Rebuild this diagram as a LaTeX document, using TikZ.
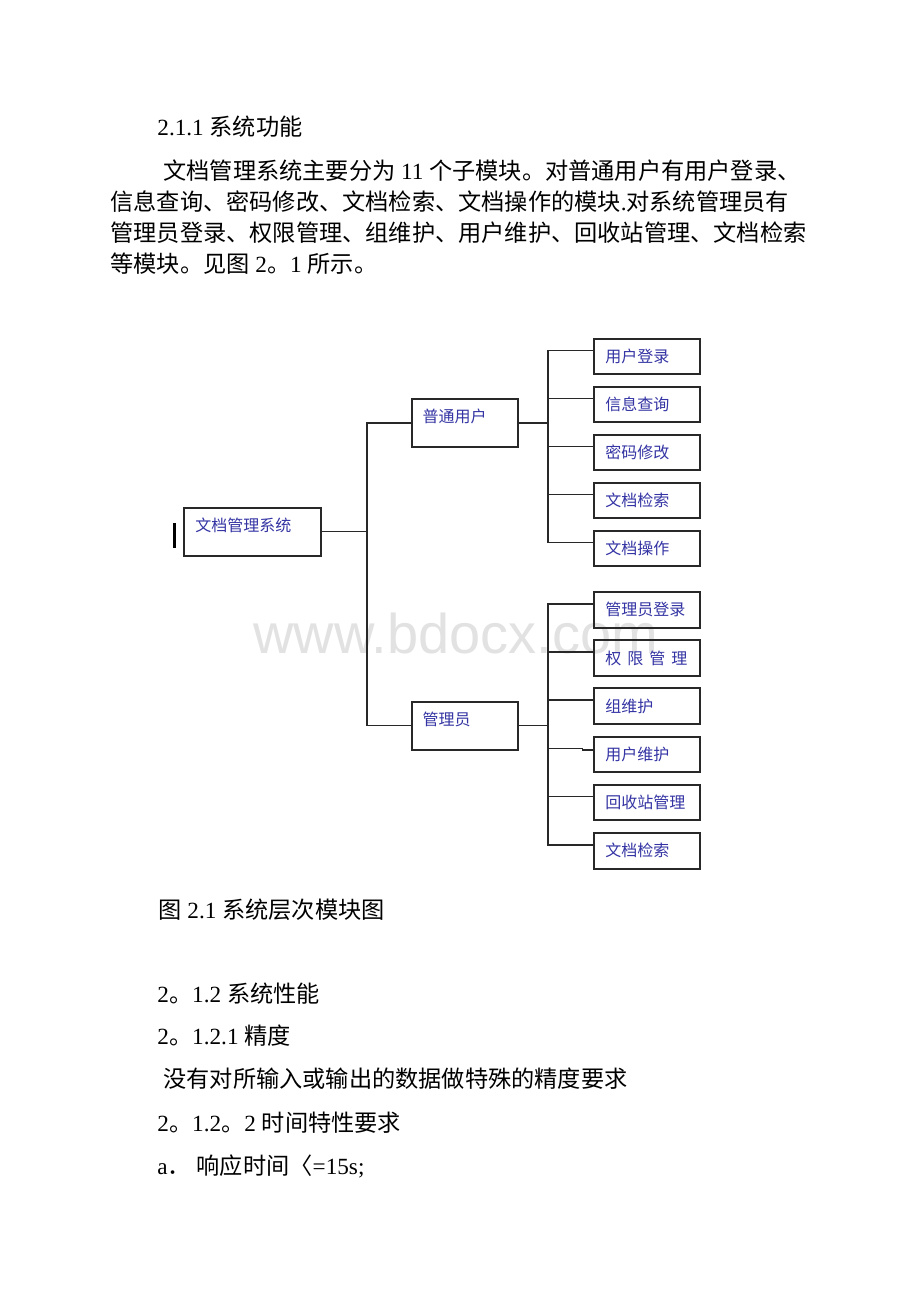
\documentclass[tikz,border=0pt]{standalone}
\usepackage{fontspec}
\setmainfont{Liberation Serif}
\newfontfamily\cjk{Noto Sans CJK SC}
\newfontfamily\wmfont{Liberation Sans}
\usepackage{tikz}
\usetikzlibrary{positioning}
\definecolor{boxblue}{RGB}{52,52,164}
\definecolor{wmgray}{RGB}{226,226,226}
\definecolor{linegray}{RGB}{40,40,40}
\newcommand{\zh}[1]{{\cjk #1}}
\tikzset{
	font={\upshape\selectfont}}
\tikzstyle{bodytext} = [anchor=base west, inner sep=0, font=\fontsize{11.6pt}{14pt}\selectfont]
\tikzstyle{rect_root} = [rectangle, draw=linegray, line width=1pt, inner xsep=5.5pt, inner ysep=0, text width=57.2pt, align=left, text height=12pt, text depth=12pt, text=boxblue, font={\cjk\fontsize{8pt}{10pt}\selectfont}]
\tikzstyle{rect_mid} = [rect_root, text width=42pt]
\tikzstyle{rect_leaf} = [rectangle, draw=linegray, line width=1pt, inner xsep=5.5pt, inner ysep=0, text width=41.85pt, align=left, minimum height=17.75pt, text height=6.6pt, text depth=0.5pt, text=boxblue, font={\cjk\fontsize{8pt}{10pt}\selectfont}]
\tikzstyle{line} = [draw=linegray, line width=0.75pt]
\begin{document}
\begin{tikzpicture}[x=0.5pt, y=-0.5pt, node distance=24pt]
\fill[white] (0,0) rectangle (920,1302);
\useasboundingbox (0,0) rectangle (920,1302);

% Wasserzeichen
\node[anchor=base west, inner sep=0, text=wmgray, font={\wmfont\fontsize{28pt}{30pt}\selectfont}](watermark) at (253,653){www.bdocx.com};

% Text oben
\node[bodytext](title) at (157,135){2.1.1 \zh{系统功能}};
\node[bodytext](intro1) at (163,179){\zh{文档管理系统主要分为} 11 \zh{个子模块。对普通用户有用户登录、}};
\node[bodytext](intro2) at (110,210){\zh{信息查询、密码修改、文档检索、文档操作的模块}.\zh{对系统管理员有}};
\node[bodytext](intro3) at (110,241){\zh{管理员登录、权限管理、组维护、用户维护、回收站管理、文档检索}};
\node[bodytext](intro4) at (110,272){\zh{等模块。见图} 2\zh{。}1 \zh{所示。}};

% Module
\node[rect_root](root) at (252.5,531.5){文档管理系统};
\node[rect_mid](user) at (464.7,422.9){普通用户};
\node[rect_mid](admin) at (464.7,725.7){管理员};
\coordinate (rootconnect) at (367,531.5); % invisible node
\coordinate[right of=user, xshift=17.65pt] (userconnect); % invisible node
\coordinate[right of=admin, xshift=17.65pt] (adminconnect); % invisible node

\node[rect_leaf](ulogin) at (647.2,356.7){用户登录};
\node[rect_leaf, below of=ulogin](uquery){信息查询};
\node[rect_leaf, below of=uquery](upwd){密码修改};
\node[rect_leaf, below of=upwd](usearch){文档检索};
\node[rect_leaf, below of=usearch](uop){文档操作};

\node[rect_leaf](alogin) at (647.2,609.8){管理员登录};
\node[rect_leaf, below of=alogin, node distance=24.1pt](aright){权\hspace{3pt}限\hspace{3pt}管\hspace{3pt}理};
\node[rect_leaf, below of=aright, node distance=24.1pt](agroup){组维护};
\node[rect_leaf, below of=agroup, node distance=24.1pt](auser){用户维护};
\node[rect_leaf, below of=auser, node distance=24.1pt](abin){回收站管理};
\node[rect_leaf, below of=abin, node distance=24.1pt](asearch){文档检索};

\draw[line width=1.2pt, black] (174.3,523) -- (174.3,548);

\draw[line](root.east) -- (rootconnect);
\draw[line](user.west) -| (rootconnect);
\draw[line](admin.west) -| (rootconnect);
\draw[line](user.east) -- (userconnect);
\draw[line](admin.east) -- (adminconnect);

\draw[line]([yshift=3pt]ulogin.west) -| (userconnect);
\draw[line]([yshift=3pt]uquery.west) -| (userconnect);
\draw[line]([yshift=3pt]upwd.west) -| (userconnect);
\draw[line]([yshift=3pt]usearch.west) -| (userconnect);
\draw[line]([yshift=3pt]uop.west) -| (userconnect);

\draw[line]([yshift=3pt]alogin.west) -| (adminconnect);
\draw[line]([yshift=3pt]aright.west) -| (adminconnect);
\draw[line]([yshift=3pt]agroup.west) -| (adminconnect);
\draw[line]([yshift=2.2pt]auser.west) -- ++(-5.5pt,0) -- ++(0,0.85pt) -| (adminconnect);
\draw[line]([yshift=3pt]abin.west) -| (adminconnect);
\draw[line]([yshift=3pt]asearch.west) -| (adminconnect);

% Text unten
\node[bodytext](caption) at (158,918){\zh{图} 2.1 \zh{系统层次模块图}};
\node[bodytext](perf) at (157,1002){2\zh{。}1.2 \zh{系统性能}};
\node[bodytext](prec) at (157,1044.6){2\zh{。}1.2.1 \zh{精度}};
\node[bodytext](precnote) at (163,1087.2){\zh{没有对所输入或输出的数据做特殊的精度要求}};
\node[bodytext](timereq) at (157,1131.4){2\zh{。}1.2\zh{。}2 \zh{时间特性要求}};
\node[bodytext](resp) at (157,1174){a\zh{．} \zh{响应时间〈}=15s;};

\end{tikzpicture}
\end{document}
